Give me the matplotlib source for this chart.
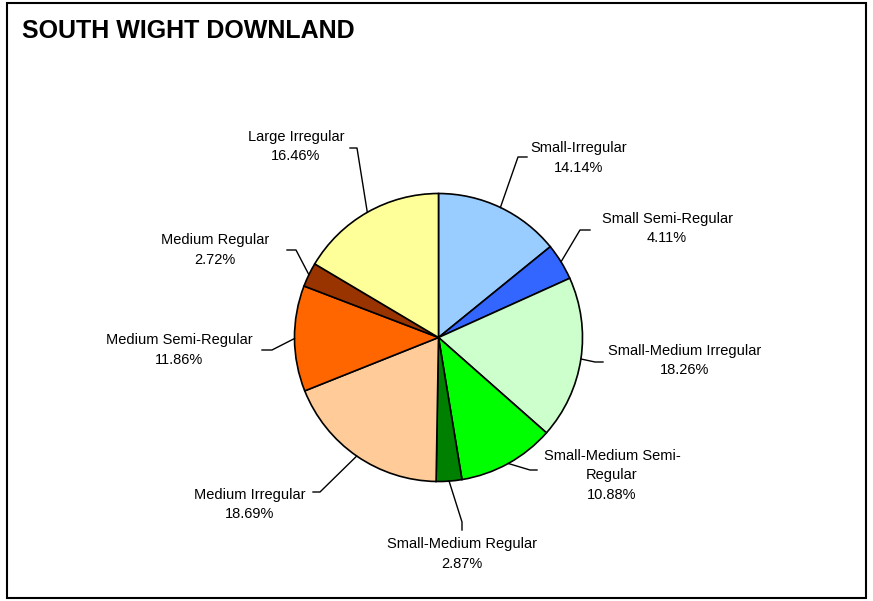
import numpy as np
import matplotlib.pyplot as plt
from matplotlib.patches import Rectangle

plt.rcParams['font.family'] = ['Liberation Sans', 'DejaVu Sans']

# data
labels = ['Small-Irregular', 'Small Semi-Regular', 'Small-Medium Irregular',
          'Small-Medium Semi-\nRegular', 'Small-Medium Regular', 'Medium Irregular',
          'Medium Semi-Regular', 'Medium Regular', 'Large Irregular']
values = [14.14, 4.11, 18.26, 10.88, 2.87, 18.69, 11.86, 2.72, 16.46]
colors = ['#99CCFF', '#3366FF', '#CCFFCC', '#00FF00', '#008000',
          '#FFCC99', '#FF6600', '#993300', '#FFFF99']

W, H = 873, 601
fig = plt.figure(figsize=(W / 100, H / 100), dpi=100)
ax = fig.add_axes([0, 0, 1, 1])

cx, cy, r = 438.5, H - 337.5, 144
wedges, _ = ax.pie(values, colors=colors, startangle=90, counterclock=False,
                   center=(cx, cy), radius=r, frame=True,
                   wedgeprops=dict(edgecolor='black', linewidth=1.2))
ax.set_xlim(0, W)
ax.set_ylim(0, H)
ax.set_aspect('auto')
ax.axis('off')

# frame
ax.add_patch(Rectangle((7, 3), 859, 595, fill=False, lw=1.5, ec='black'))

# label centre (x, y of first line, pixels from top), elbow and line end
text_pos = [(579, 148), (667, 219), (685, 351), (612, 456), (462, 544),
            (250, 495), (179, 340), (215, 240), (296, 137)]
elbows = [((518, 157), (527, 157)), ((580, 230), (590, 230)),
          ((595, 362), (603, 362)), ((530, 470), (537, 470)),
          ((462, 522), (462, 530)), ((320, 492), (313, 492)),
          ((272, 350), (262, 350)), ((296, 250), (287, 250)),
          ((357, 148), (350, 148))]

for w, lab, v, (tx, ty), (e1, e2) in zip(wedges, labels, values, text_pos, elbows):
    mid = np.deg2rad((w.theta1 + w.theta2) / 2)
    px, py = cx + r * np.cos(mid), cy + r * np.sin(mid)
    ax.plot([px, e1[0], e2[0]], [py, H - e1[1], H - e2[1]], color='black', lw=1)
    ax.text(tx, H - ty + 7, f'{lab}\n{v:.2f}%', ha='center', va='top',
            fontsize=10.5, linespacing=1.5)

ax.text(22, H - 31, 'SOUTH WIGHT DOWNLAND', fontsize=18, fontweight='bold',
        va='center', ha='left')

fig.savefig('out.png', dpi=100)
